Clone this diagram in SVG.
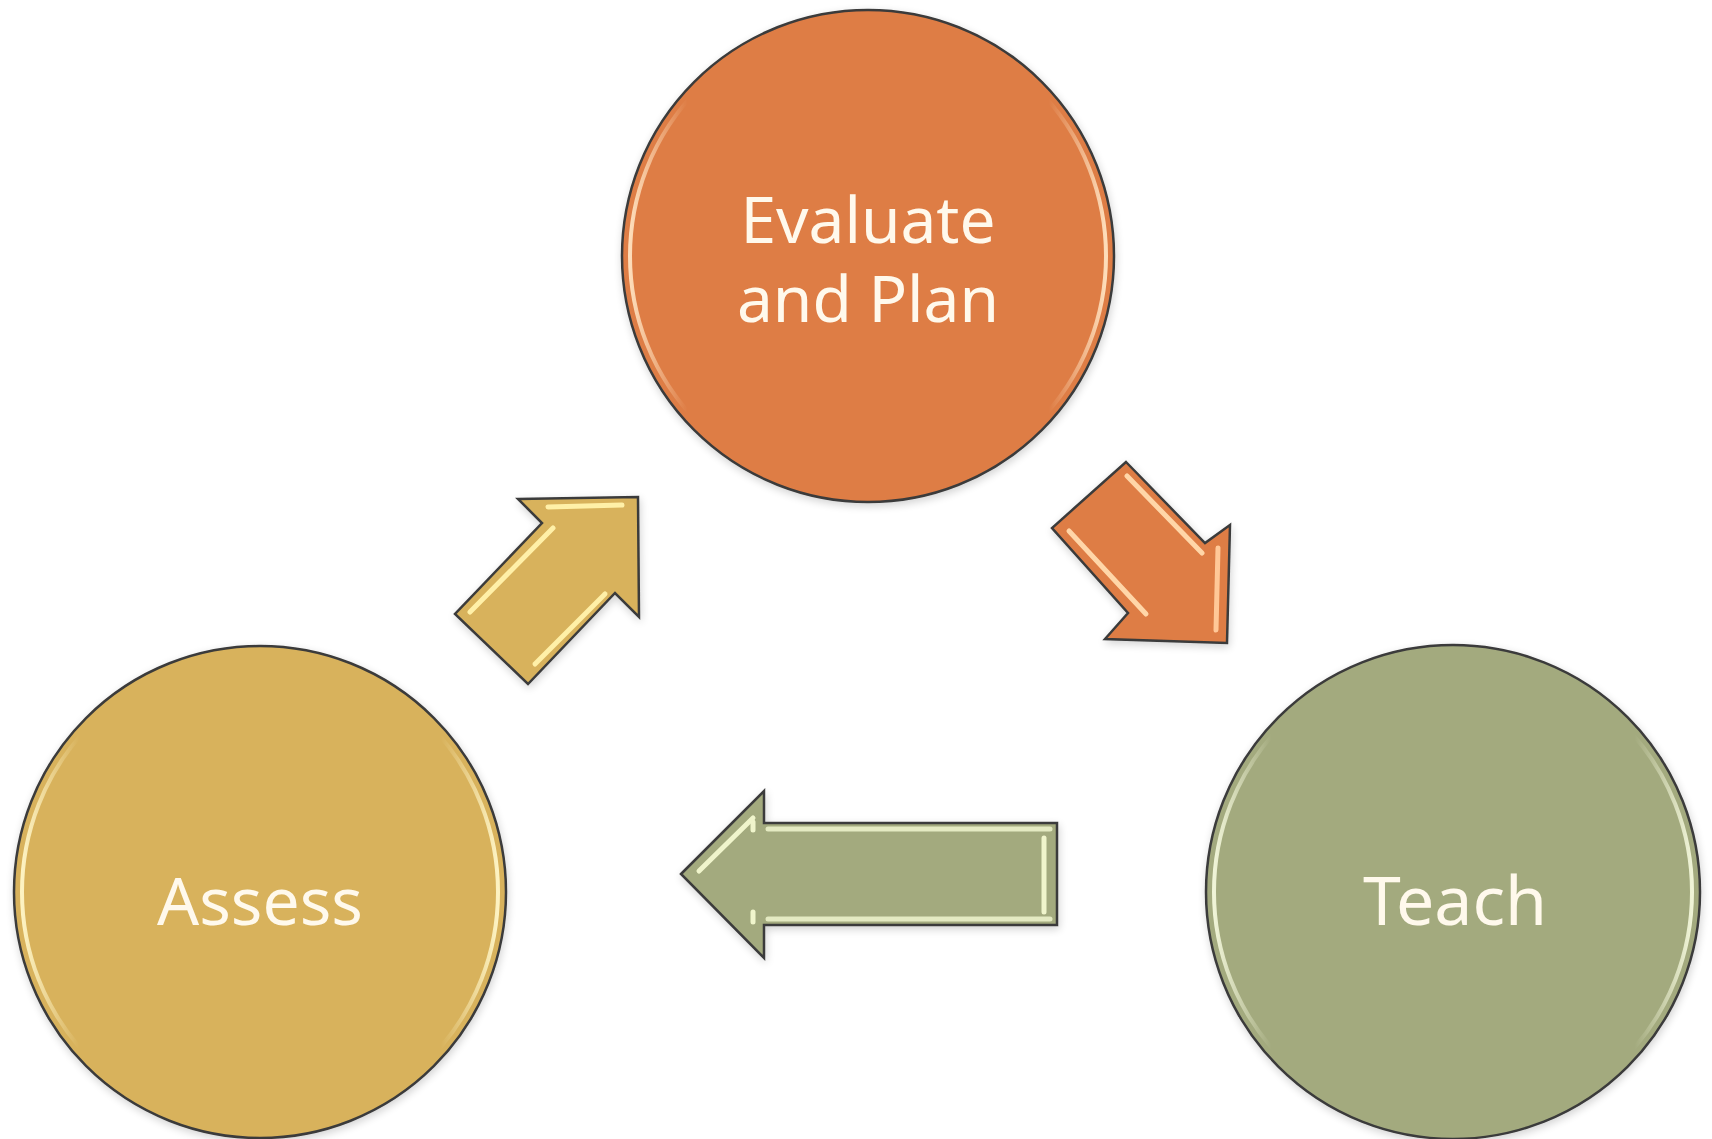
<svg xmlns="http://www.w3.org/2000/svg" width="1712" height="1139" viewBox="0 0 1712 1139">
  <style>
    .outline { stroke: #3b3b3b; stroke-width: 2.5; }
    .lbl { font-family: "Noto Sans", "DejaVu Sans", sans-serif; fill: #FFF9EC; text-anchor: middle; }
    .hl { fill: none; stroke-width: 5; stroke-linecap: round; }
  </style>
  <defs>
    <filter id="shadow" x="-10%" y="-10%" width="120%" height="120%">
      <feGaussianBlur in="SourceAlpha" stdDeviation="4"/>
      <feOffset dx="1" dy="3" result="b"/>
      <feComponentTransfer><feFuncA type="linear" slope="0.18"/></feComponentTransfer>
      <feMerge><feMergeNode/><feMergeNode in="SourceGraphic"/></feMerge>
    </filter>
    <linearGradient id="rimOrange" x1="0" y1="0" x2="1" y2="0">
      <stop offset="0" stop-color="#FFE2C0" stop-opacity="0.95"/>
      <stop offset="0.12" stop-color="#FFE2C0" stop-opacity="0"/>
      <stop offset="0.88" stop-color="#FFE2C0" stop-opacity="0"/>
      <stop offset="1" stop-color="#FFE2C0" stop-opacity="0.95"/>
    </linearGradient>
    <linearGradient id="rimYellow" x1="0" y1="0" x2="1" y2="0">
      <stop offset="0" stop-color="#FFF6C8" stop-opacity="0.95"/>
      <stop offset="0.12" stop-color="#FFF6C8" stop-opacity="0"/>
      <stop offset="0.88" stop-color="#FFF6C8" stop-opacity="0"/>
      <stop offset="1" stop-color="#FFF6C8" stop-opacity="0.95"/>
    </linearGradient>
    <linearGradient id="rimGreen" x1="0" y1="0" x2="1" y2="0">
      <stop offset="0" stop-color="#F4F8DC" stop-opacity="0.95"/>
      <stop offset="0.12" stop-color="#F4F8DC" stop-opacity="0"/>
      <stop offset="0.88" stop-color="#F4F8DC" stop-opacity="0"/>
      <stop offset="1" stop-color="#F4F8DC" stop-opacity="0.95"/>
    </linearGradient>
  </defs>
  <rect width="1712" height="1139" fill="#FFFFFF"/>

  <g id="node-evaluate" filter="url(#shadow)">
    <circle cx="868" cy="256" r="246" fill="#DE7D45" class="outline"/>
    <circle cx="868" cy="256" r="238" fill="none" stroke="url(#rimOrange)" stroke-width="4"/>
    <text class="lbl" x="868" y="243" font-size="64">Evaluate</text>
    <text class="lbl" x="868" y="322" font-size="64">and Plan</text>
  </g>

  <g id="node-assess" filter="url(#shadow)">
    <circle cx="260" cy="892" r="246" fill="#D8B25C" class="outline"/>
    <circle cx="260" cy="892" r="238" fill="none" stroke="url(#rimYellow)" stroke-width="4"/>
    <text class="lbl" x="260" y="925" font-size="66">Assess</text>
  </g>

  <g id="node-teach" filter="url(#shadow)">
    <circle cx="1453" cy="892" r="247" fill="#A3AA7E" class="outline"/>
    <circle cx="1453" cy="892" r="239" fill="none" stroke="url(#rimGreen)" stroke-width="4"/>
    <text class="lbl" x="1455" y="925" font-size="68">Teach</text>
  </g>

  <g id="connectors">
    <g id="arrow-assess-evaluate" filter="url(#shadow)">
      <polygon points="518,499 638,497 639,617 615,593 528,684 455,614 542,523" fill="#D8B25C" class="outline"/>
      <polyline class="hl" stroke="#FFF0A8" points="470,612 553,528"/>
      <polyline class="hl" stroke="#FFF0A8" points="548,507 622,505"/>
      <polyline class="hl" stroke="#FFF0A8" points="535,664 605,594"/>
    </g>
    <g id="arrow-evaluate-teach" filter="url(#shadow)">
      <polygon points="1126,462 1205,543 1230,525 1227,643 1105,639 1128,613 1052,528" fill="#DE7D45" class="outline"/>
      <polyline class="hl" stroke="#FFD6A8" points="1127,476 1202,553"/>
      <polyline class="hl" stroke="#FFD6A8" points="1069,531 1146,614"/>
      <polyline class="hl" stroke="#FFC898" points="1218,548 1216,630"/>
    </g>
    <g id="arrow-teach-assess" filter="url(#shadow)">
      <polygon points="681,874 764,791 764,823 1057,823 1057,925 764,925 764,958" fill="#A3AA7E" class="outline"/>
      <polyline class="hl" stroke="#F0F5CC" points="699,871 753,818"/>
      <polyline class="hl" stroke="#F0F5CC" points="753,822 753,830"/>
      <polyline class="hl" stroke="#F0F5CC" points="753,912 753,922"/>
      <polyline class="hl" stroke="#F0F5CC" points="1044,838 1044,912"/>
      <polyline class="hl" stroke="#E4EAC2" stroke-width="3" points="768,829 1050,829"/>
      <polyline class="hl" stroke="#E4EAC2" stroke-width="3" points="768,919 1050,919"/>
    </g>
  </g>
</svg>
